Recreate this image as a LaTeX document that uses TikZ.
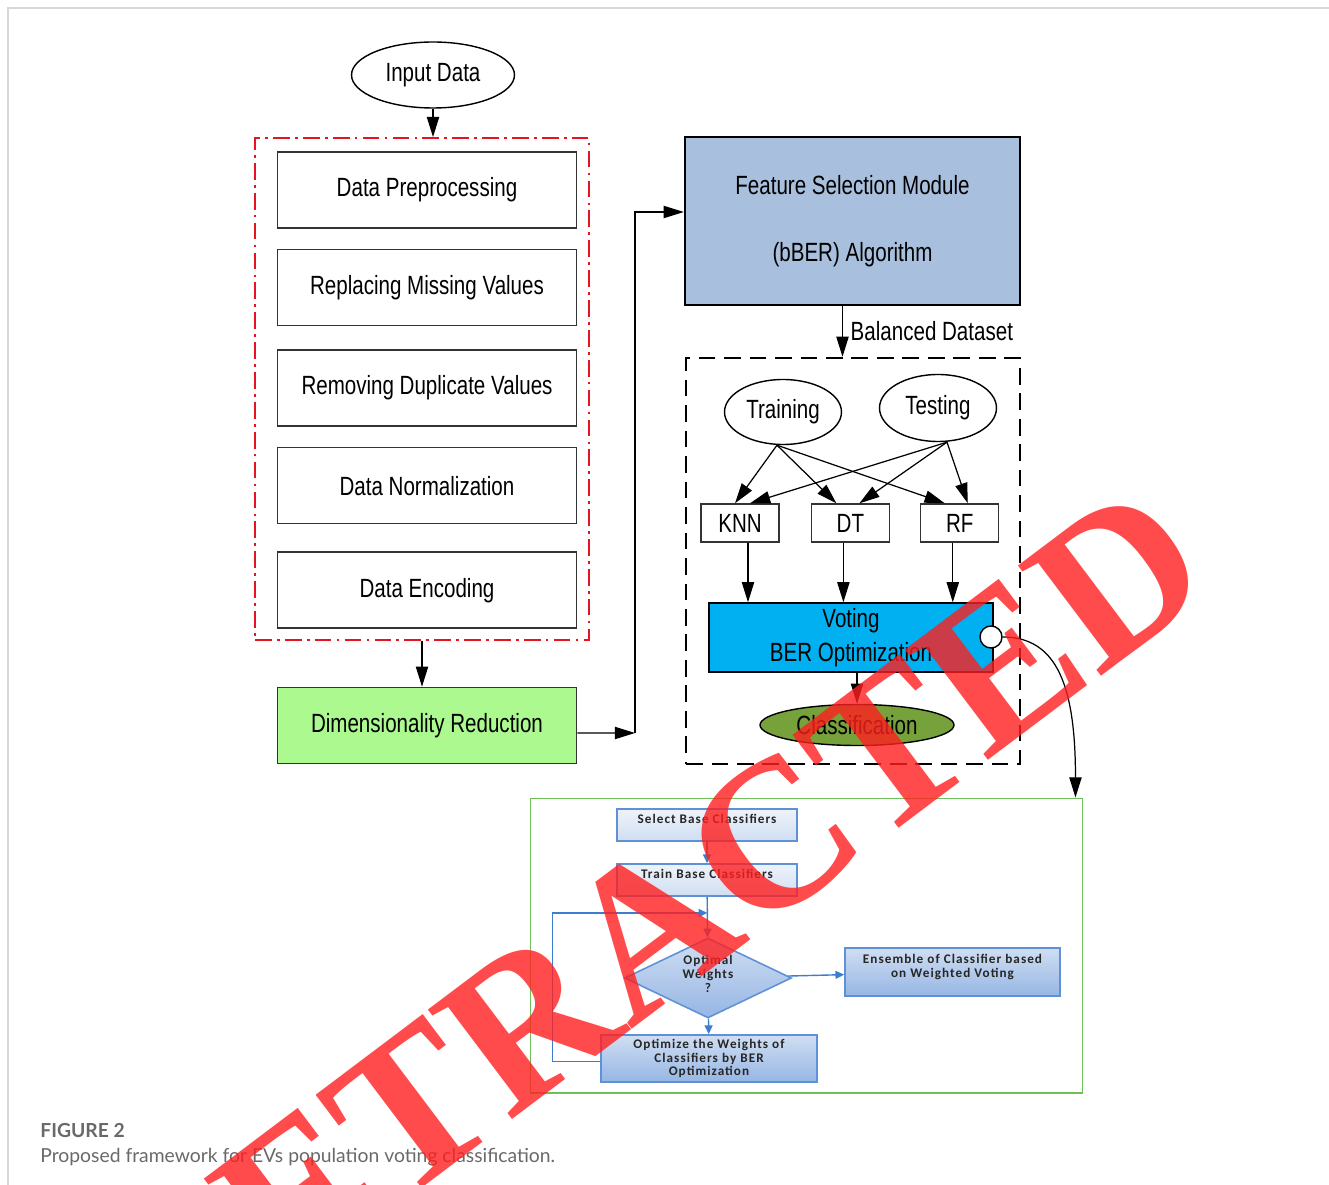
\documentclass[tikz,border=0pt]{standalone}
\usepackage{fontspec}
\setmainfont{Liberation Sans}
\newfontfamily\narrowfont[FakeStretch=0.78]{Liberation Sans}
\newfontfamily\flowfont[LetterSpace=8]{Carlito}
\newfontfamily\capfont{Lato}
\newfontfamily\stampfont{Liberation Serif}
\usetikzlibrary{positioning,shapes.geometric,arrows.meta,calc}

\definecolor{featblue}{RGB}{168,191,221}
\definecolor{dimgreen}{RGB}{171,249,143}
\definecolor{votecyan}{RGB}{0,176,240}
\definecolor{classgreen}{RGB}{119,161,58}
\definecolor{framered}{RGB}{230,20,30}
\definecolor{ensgreen}{RGB}{110,190,90}
\definecolor{flowline}{RGB}{60,125,208}
\definecolor{flowedge}{RGB}{95,145,215}
\definecolor{flowlight}{RGB}{238,243,250}
\definecolor{flowmid}{RGB}{208,222,242}
\definecolor{flowdark}{RGB}{150,182,228}
\definecolor{capgrey}{RGB}{105,105,105}
\definecolor{stampred}{RGB}{255,30,30}
\definecolor{pageline}{RGB}{215,215,215}

\begin{document}
\begin{tikzpicture}[x=0.02cm, y=-0.02cm]%, pixel grid
	\tikzset{
		bodyfont/.style={font=\narrowfont\fontsize{15}{18}\selectfont},
		stepnode/.style={rectangle, draw=black!80, line width=0.9pt, minimum width=5.98cm, minimum height=1.52cm, bodyfont},
		ovalnode/.style={ellipse, draw=black, line width=0.8pt, inner sep=0pt, bodyfont},
		clfbox/.style={rectangle, draw=black!80, line width=0.8pt, minimum width=1.56cm, minimum height=0.76cm, inner sep=0pt, bodyfont},
		featbox/.style={rectangle, draw=black, line width=1.4pt, fill=featblue, minimum width=6.7cm, minimum height=3.36cm, align=center, bodyfont},
		votebox/.style={rectangle, draw=black, line width=0.8pt, fill=votecyan, minimum width=5.68cm, minimum height=1.38cm, inner sep=0pt, align=center, font=\narrowfont\fontsize{15}{19}\selectfont},
		redframe/.style={rectangle, draw=framered, line width=1.1pt, dash pattern=on 9.5pt off 3pt on 1.5pt off 3pt},
		mlframe/.style={rectangle, draw=black, line width=1.4pt, dash pattern=on 9.5pt off 5pt},
		flowbox/.style={rectangle, draw=flowedge, line width=0.9pt, inner sep=1pt, align=center, text=black!85, font=\flowfont\bfseries\fontsize{7.5}{7.8}\selectfont},
		myarrow/.style={-{Triangle[length=11.5pt,width=7pt]}, line width=0.7pt},
		flowarrow/.style={-{Triangle[length=5pt,width=4.5pt]}, draw=flowline, line width=0.8pt},
		stamp/.style={text=stampred, text opacity=0.8, inner sep=0pt, font=\stampfont\bfseries\fontsize{120}{120}\selectfont}
	}
	\useasboundingbox (0,0) rectangle (1329,1185);
	\draw[pageline, line width=1.1pt] (1329,8) -- (8,8) -- (8,1185);

	% preprocessing column
	\node[ovalnode, minimum width=3.26cm, minimum height=1.32cm] (inputData) at (433,75) {Input Data};
	\node[stepnode] (prep) at (427,190) {Data Preprocessing};
	\node[stepnode, below=0.4cm of prep] (missing) {Replacing Missing Values};
	\node[stepnode, below=0.46cm of missing] (duplicate) {Removing Duplicate Values};
	\node[stepnode, below=0.4cm of duplicate] (normal) {Data Normalization};
	\node[stepnode, below=0.54cm of normal] (encode) {Data Encoding};
	\node[redframe, minimum width=6.68cm, minimum height=10.04cm] (preFrame) at (422,389) {};
	\node[stepnode, fill=dimgreen] (dimRed) at (427,725.5) {Dimensionality Reduction};

	% feature selection and classifiers
	\node[featbox] (featSel) at (852.5,221) {Feature Selection Module\\[20pt](bBER) Algorithm};
	\node[mlframe, minimum width=6.68cm, minimum height=8.12cm] (mlFrame) at (853,561) {};
	\node[ovalnode, minimum width=2.34cm, minimum height=1.3cm] (train) at (783,412) {Training};
	\node[ovalnode, minimum width=2.34cm, minimum height=1.34cm] (test) at (938,408) {Testing};
	\node[clfbox] (knn) at (740,523) {KNN};
	\node[clfbox, right=0.62cm of knn] (dt) {DT};
	\node[clfbox, right=0.6cm of dt] (rf) {RF};
	\node[votebox] (voting) at (851,637.5) {Voting\\BER Optimization};
	\node[circle, draw=black, fill=white, line width=0.8pt, minimum size=0.44cm, inner sep=0pt] (vOut) at (991,637) {};
	\node[ovalnode, fill=classgreen, minimum width=3.88cm, minimum height=0.82cm] (classify) at (857,725) {Classification};

	% weighted voting detail
	\node[rectangle, draw=ensgreen, line width=0.6pt, minimum width=11.06cm, minimum height=5.9cm] (ensFrame) at (806.5,945.5) {};
	\node[flowbox, top color=flowlight, bottom color=flowmid, minimum width=3.6cm, minimum height=0.64cm] (selBase) at (707,825) {Select Base Classifiers\\[-1pt]};
	\node[flowbox, top color=flowlight, bottom color=flowmid, minimum width=3.6cm, minimum height=0.64cm] (trainBase) at (707,880) {Train Base Classifiers\\[-1pt]};
	\node[flowbox, diamond, aspect=2.1, inner sep=0pt, top color=flowmid, bottom color=flowdark, minimum width=3.34cm, minimum height=1.6cm] (optW) at (708,978) {Optimal\\Weights\\?\\[-3pt]};
	\node[flowbox, top color=flowmid, bottom color=flowdark, minimum width=4.3cm, minimum height=0.96cm] (ensemble) at (952.5,972) {Ensemble of Classifier based\\on Weighted Voting\\[-1pt]};
	\node[flowbox, top color=flowmid, bottom color=flowdark, minimum width=4.32cm, minimum height=0.94cm] (optimize) at (709,1058.5) {Optimize the Weights of\\Classifiers by BER\\Optimization};

	\draw[myarrow] (inputData) -- (inputData.south |- preFrame.north);
	\draw[myarrow] (preFrame.south) -- (preFrame.south |- dimRed.north);
	\coordinate (bendUp) at (635,733);
	\draw[myarrow] ([yshift=-0.15cm]dimRed.east) -- (bendUp);
	\draw[myarrow] (bendUp) |- ([yshift=0.18cm]featSel.west);
	\draw[myarrow] ([xshift=-0.2cm]featSel.south) -- ([xshift=-0.2cm]featSel.south |- mlFrame.north) node[midway, right=1pt, bodyfont] (balanced) {Balanced Dataset};
	\foreach \tgt/\dx in {knn/-0.1, dt/-0.28, rf/-0.3}
		\draw[myarrow] ([xshift=-0.12cm]train.south) -- ([xshift=\dx cm]\tgt.north);
	\foreach \tgt/\dx in {knn/0.2, dt/0.18, rf/0.16}
		\draw[myarrow] ([xshift=0.18cm]test.south) -- ([xshift=\dx cm]\tgt.north);
	\foreach \src/\dx in {knn/0.16, dt/-0.14, rf/-0.14}
		\draw[myarrow] ([xshift=\dx cm]\src.south) -- ([xshift=\dx cm]\src.south |- voting.north);
	\draw[myarrow] (voting.south -| classify.north) -- (classify.north);
	\draw[myarrow] (vOut.east) .. controls +(55,0) and +(0,-110) .. ([xshift=-0.16cm]ensFrame.north east);

	\draw[flowarrow] (selBase) -- (trainBase);
	\draw[flowarrow] (trainBase) -- (optW);
	\draw[flowarrow] (optW) -- (ensemble);
	\draw[flowarrow] (optW) -- (optimize);
	\draw[flowarrow] ([yshift=-0.06cm]optimize.west) -- ++(-48,0) |- ($(trainBase.south)!0.4!(optW.north)$);

	% caption
	\node[anchor=base west, inner sep=0pt, text=capgrey, font=\capfont\bfseries\fontsize{11}{13}\selectfont] (figTag) at (40,1137) {FIGURE 2};
	\node[anchor=base west, inner sep=0pt, text=capgrey, font=\capfont\fontsize{11}{13}\selectfont] (figCap) at (40,1162) {Proposed framework for EVs population voting classification.};

	\node[stamp, rotate=37] (retracted) at (650,930) {RETRACTED};
\end{tikzpicture}
\end{document}
